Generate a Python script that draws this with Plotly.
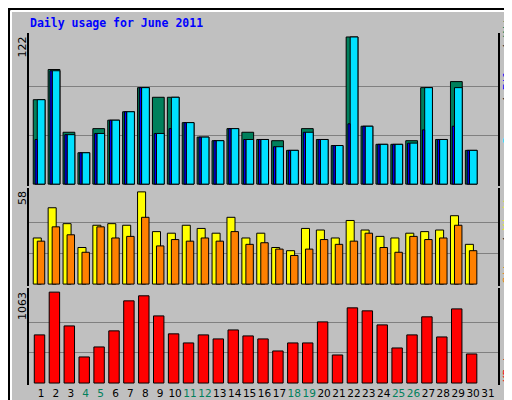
import plotly.graph_objects as go

days = list(range(1, 32))
hits = [70,95,43,26,46,53,60,80,72,72,51,39,36,46,43,37,36,28,46,37,32,122,48,33,33,36,80,37,85,28,None]
files = [70,94,41,26,42,53,60,80,42,72,51,39,36,46,37,37,31,28,43,37,32,122,48,33,33,34,80,37,80,28,None]
pages = [37,94,41,26,42,53,60,80,42,46,51,39,36,46,37,37,31,28,43,37,32,50,48,33,33,34,45,37,48,28,None]
visits = [29,48,38,23,37,38,37,58,33,32,37,35,32,42,29,32,23,21,35,34,29,40,34,30,29,32,33,34,43,25,None]
sites = [27,36,31,20,36,29,30,42,24,28,27,29,27,33,25,26,22,18,22,28,25,27,32,23,20,30,28,29,37,21,None]
kbytes = [563,1063,668,305,422,610,961,1020,785,575,469,563,516,621,551,516,375,469,469,715,328,879,844,680,410,563,774,539,867,340,None]
weekend = [4,5,11,12,18,19,25,26]
max_hits, max_visits, max_kb = 122, 58, 1063

line = dict(color="black", width=1)
fig = go.Figure()
def bar(y, color, off, w, ax):
    fig.add_trace(go.Bar(x=days, y=y, offset=off, width=w, marker=dict(color=color, line=line),
                         xaxis="x", yaxis=ax, showlegend=False))
bar(hits, "#00805c", -0.52, 0.79, "y")
bar(files, "#00E0FF", -0.25, 0.52, "y")
bar(pages, "#0000FF", -0.40, 0.15, "y")
bar(visits, "#FFFF00", -0.52, 0.54, "y2")
bar(sites, "#FF8000", -0.25, 0.50, "y2")
bar(kbytes, "#FF0000", -0.45, 0.70, "y3")

ticktext = [f"<span style='color:#00805c'>{d}</span>" if d in weekend else str(d) for d in days]
ax_common = dict(showline=True, mirror=True, linecolor="black", linewidth=2, showgrid=True,
                 gridcolor="#808080", gridwidth=1, showticklabels=False, ticks="", zeroline=False,
                 automargin=False)
fig.update_layout(
    width=512, height=400, barmode="overlay",
    paper_bgcolor="#C0C0C0", plot_bgcolor="#C0C0C0",
    margin=dict(l=21, r=22, t=25, b=23, autoexpand=False),
    font=dict(family="DejaVu Sans", size=11, color="black"),
    xaxis=dict(range=[0.195, 31.67], tickvals=days, ticktext=ticktext, showline=False,
               showgrid=False, zeroline=False, ticks="", anchor="y3", tickangle=0,
               automargin=False, tickfont=dict(size=10.5)),
    yaxis=dict(domain=[0.565, 1], range=[-1.66, 125.3], tickvals=[max_hits/3, 2*max_hits/3], **ax_common),
    yaxis2=dict(domain=[0.281, 0.560], range=[-1.26, 60.5], tickvals=[max_visits/3, 2*max_visits/3], **ax_common),
    yaxis3=dict(domain=[0, 0.276], range=[-23, 1113], tickvals=[max_kb/3, 2*max_kb/3], **ax_common),
)

def px(x): return (x - 21) / 469
def py(y): return (377 - y) / 352

shapes = [
    dict(type="rect", xref="paper", yref="paper", x0=px(1), x1=px(511), y0=py(399), y1=py(1),
         line=dict(color="black", width=2), fillcolor="rgba(0,0,0,0)"),
    dict(type="line", xref="paper", yref="paper", x0=px(3), x1=px(508), y0=py(3), y1=py(3), line=dict(color="white", width=2)),
    dict(type="line", xref="paper", yref="paper", x0=px(3), x1=px(3), y0=py(3), y1=py(396), line=dict(color="white", width=2)),
    dict(type="line", xref="paper", yref="paper", x0=px(508), x1=px(508), y0=py(3), y1=py(396), line=dict(color="#808080", width=2)),
    dict(type="line", xref="paper", yref="paper", x0=px(3), x1=px(508), y0=py(396), y1=py(396), line=dict(color="#808080", width=2)),
]
fig.update_layout(shapes=shapes)

ann = [
    dict(text="<b>Daily usage for June 2011</b>", x=px(20), y=py(15), xanchor="left", yanchor="middle",
         font=dict(family="DejaVu Sans Mono", size=11.5, color="#0000FF")),
    dict(text="122", x=px(14), y=py(27), xanchor="center", yanchor="top", textangle=-90),
    dict(text="58", x=px(14), y=py(181), xanchor="center", yanchor="top", textangle=-90),
    dict(text="1063", x=px(14), y=py(282), xanchor="center", yanchor="top", textangle=-90),
    dict(text="<span style='color:#00E0FF'>Pages</span> / <span style='color:#0000FF'>Files</span> / <span style='color:#00805c'>Hits</span>",
         x=px(499), y=py(137), xanchor="center", yanchor="bottom", textangle=-90,
         font=dict(family="DejaVu Sans Mono", size=11)),
    dict(text="<span style='color:#FF8000'>Sites</span> / <span style='color:#FFFF00'>Visits</span>",
         x=px(499), y=py(277), xanchor="center", yanchor="bottom", textangle=-90,
         font=dict(family="DejaVu Sans Mono", size=11)),
    dict(text="<span style='color:#FF0000'>KBytes</span>",
         x=px(499), y=py(376), xanchor="center", yanchor="bottom", textangle=-90,
         font=dict(family="DejaVu Sans Mono", size=11)),
]
for a in ann:
    a.update(xref="paper", yref="paper", showarrow=False)
fig.update_layout(annotations=ann)
fig.write_html("out.html")
